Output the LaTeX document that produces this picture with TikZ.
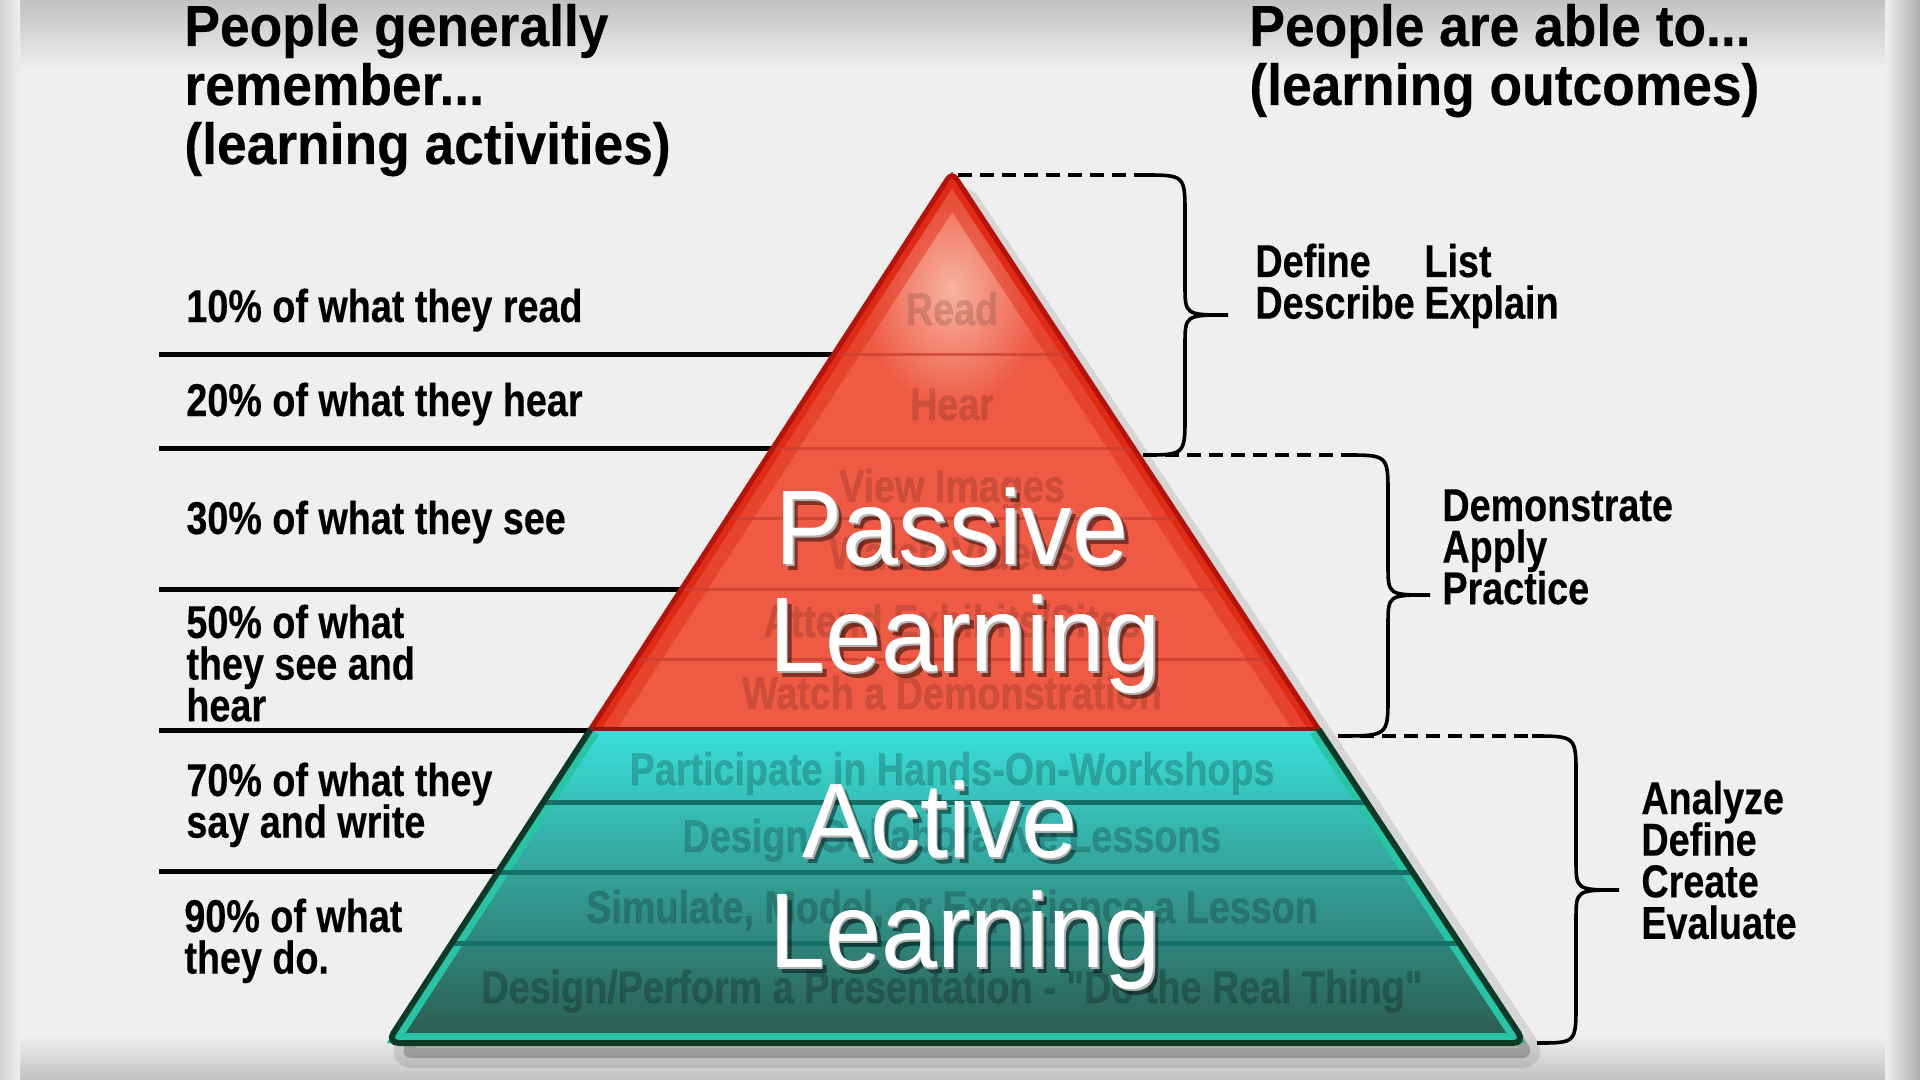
\documentclass[tikz,border=0pt]{standalone}
\usepackage{fontspec}
\setmainfont{Liberation Sans}
\newfontfamily\narrowsans{Liberation Sans}[FakeStretch=0.82, BoldFeatures={FakeBold=0.3}]
\newfontfamily\headsans{Liberation Sans}[FakeStretch=0.92, BoldFeatures={FakeBold=0.3}]
\newfontfamily\bigsans{Liberation Sans}[FakeStretch=0.95]
\usetikzlibrary{calc}

\definecolor{paper}{HTML}{EFEFEF}
\definecolor{papergray}{HTML}{C2C2C2}
\definecolor{redmid}{HTML}{EE5A44}
\definecolor{redglow}{HTML}{F7B3A2}
\definecolor{redrim}{HTML}{E02A14}
\definecolor{reddark}{HTML}{B5120A}
\definecolor{redline}{HTML}{C93E2E}
\definecolor{tealtop}{HTML}{3ADFDA}
\definecolor{tealmid}{HTML}{22A79E}
\definecolor{tealbot}{HTML}{2B5A4D}
\definecolor{tealrim}{HTML}{27C4A6}
\definecolor{tealdark}{HTML}{0B3A26}
\definecolor{tealline}{HTML}{157068}

% lines set at the font's baselineskip, baseline on the first line
\newcommand{\stack}[1]{\vtop{\lineskiplimit=-\maxdimen\let\\\cr\halign{##\hfil\cr#1\crcr}}}
% white title word with its bevel and shadow
\newcommand{\bigtext}[4]{%
  \node[bigword, text=black, text opacity=0.45] (#1-shadow) at (#2+5,#3+6) {#4};
  \node[bigword, text=gray!60] (#1-edge) at (#2+1.5,#3+2) {#4};
  \node[bigword, text=white] (#1) at (#2,#3) {#4};
}

\tikzset{
  heading/.style={anchor=base west, inner sep=0pt, font=\headsans\bfseries\fontsize{29}{29.5}\selectfont},
  remember/.style={anchor=base west, inner sep=0pt, font=\narrowsans\bfseries\fontsize{23}{20.8}\selectfont},
  outcome/.style={remember},
  layer/.style={anchor=base, inner sep=0pt, font=\narrowsans\bfseries\fontsize{23}{21}\selectfont, text=black, text opacity=0.14},
  bigword/.style={anchor=base, inner sep=0pt, font=\bigsans\fontsize{53}{53}\selectfont},
  leftrule/.style={line width=2.5pt, black},
  guide/.style={line width=2pt, dash pattern=on 7pt off 4pt},
  brace/.style={line width=1.8pt},
}

\begin{document}
\begin{tikzpicture}[x=0.5pt, y=-0.5pt]
  \useasboundingbox (0,0) rectangle (1920,1080);

  % paper
  \fill[paper] (0,0) rectangle (1920,1080);
  \shade[top color=papergray, bottom color=paper] (0,0) rectangle (1920,70);
  \shade[top color=paper, bottom color=papergray] (0,1035) rectangle (1920,1080);
  \shade[left color=paper, right color=papergray!90!black] (1885,0) rectangle (1920,1080);
  \shade[left color=papergray!60!paper, right color=paper] (0,0) rectangle (20,1080);

  % headings
  \node[heading] (headleft) at (184,46) {\stack{People generally\\remember...\\(learning activities)}};
  \node[heading] (headright) at (1249,46) {\stack{People are able to...\\(learning outcomes)}};

  % left rules, under the pyramid
  \foreach \yy/\xe in {355/843, 448/783, 589/691, 730/600, 871/509}
    \draw[leftrule] (159,\yy) -- (\xe,\yy);

  \coordinate (apex) at (952,172);
  \coordinate (bl) at (387,1043);
  \coordinate (br) at (1525,1043);
  \coordinate (ml) at ($(apex)!0.6395!(bl)$);
  \coordinate (mr) at ($(apex)!0.6395!(br)$);

  % shadow
  \fill[black, opacity=0.22, line width=10pt, draw opacity=0.1, draw=black, rounded corners=8pt]
    (962,190) -- (1537,1058) -- (397,1058) -- cycle;

  % active part
  \begin{scope}
    \clip (ml) -- (mr) -- (br) -- (bl) -- cycle;
    \shade[top color=tealtop, middle color=tealmid, bottom color=tealbot] (380,729) rectangle (1530,1043);
    \draw[tealrim, line width=10pt] (ml) -- (bl) -- (br) -- (mr);
    \foreach \yy in {802,872,943}
      \draw[tealline, line width=2.5pt] (380,\yy) -- (1530,\yy);
  \end{scope}
  \draw[tealdark, line width=3pt, rounded corners=6pt] (ml) -- (bl) -- (br) -- (mr);

  % passive part
  \begin{scope}
    \clip (apex) -- (mr) -- (ml) -- cycle;
    \fill[redmid] (380,170) rectangle (1530,730);
    \shade[inner color=redglow, outer color=redmid] (952,290) ellipse (90 and 120);
    \draw[redrim, line width=22pt, opacity=0.45] (ml) -- (apex) -- (mr);
    \draw[redrim, line width=9pt] (ml) -- (apex) -- (mr);
    \foreach \yy in {355,448,518,589,659}
      \draw[redline, line width=1.5pt, opacity=0.7] (380,\yy) -- (1530,\yy);
  \end{scope}
  \draw[reddark, line width=2.5pt, rounded corners=4pt] (ml) -- (apex) -- (mr);
  \draw[reddark!70!tealdark, line width=2pt] (ml) -- (mr);

  % layer names
  \node[layer] (read)    at (952,325)  {Read};
  \node[layer] (hear)    at (952,420)  {Hear};
  \node[layer] (view)    at (952,502)  {View Images};
  \node[layer] (videos)  at (952,569)  {Watch Videos};
  \node[layer] (attend)  at (952,637)  {Attend Exhibits/Sites};
  \node[layer] (demo)    at (952,709)  {Watch a Demonstration};
  \node[layer, text opacity=0.2] (workshop) at (952,785)  {Participate in Hands-On-Workshops};
  \node[layer, text opacity=0.2] (lessons)  at (952,852)  {Design Collaborative Lessons};
  \node[layer, text opacity=0.2] (simulate) at (952,923)  {Simulate, Model, or Experience a Lesson};
  \node[layer, text opacity=0.22] (perform) at (952,1003) {Design/Perform a Presentation - "Do the Real Thing"};

  % titles
  \bigtext{passive}{952}{564}{Passive}
  \bigtext{learnp}{965}{671}{Learning}
  \bigtext{active}{940}{857}{Active}
  \bigtext{learna}{965}{967}{Learning}

  % what they remember
  \node[remember] (rem10) at (186,322) {10\% of what they read};
  \node[remember] (rem20) at (186,416) {20\% of what they hear};
  \node[remember] (rem30) at (186,534) {30\% of what they see};
  \node[remember] (rem50) at (186,638) {\stack{50\% of what\\they see and\\hear}};
  \node[remember] (rem70) at (186,796) {\stack{70\% of what they\\say and write}};
  \node[remember] (rem90) at (184,932) {\stack{90\% of what\\they do.}};

  % guides and braces
  \draw[guide] (958,175) -- (1143,175);
  \draw[brace] (1143,175) .. controls (1185,175) .. (1185,215) -- (1185,285)
    .. controls (1185,315) .. (1228,315) .. controls (1185,315) .. (1185,345)
    -- (1185,415) .. controls (1185,455) .. (1143,455);
  \draw[guide] (1143,455) -- (1345,455);
  \draw[brace] (1345,455) .. controls (1388,455) .. (1388,495) -- (1388,565)
    .. controls (1388,595) .. (1430,595) .. controls (1388,595) .. (1388,625)
    -- (1388,696) .. controls (1388,736) .. (1338,736);
  \draw[guide] (1338,736) -- (1532,736);
  \draw[brace] (1532,736) .. controls (1576,736) .. (1576,776) -- (1576,860)
    .. controls (1576,890) .. (1619,890) .. controls (1576,890) .. (1576,920)
    -- (1576,1003) .. controls (1576,1043) .. (1537,1043);

  % what they are able to do
  \node[outcome] (define)  at (1255,277) {\stack{Define\\Describe}};
  \node[outcome] (list)    at (1424,277) {\stack{List\\Explain}};
  \node[outcome] (apply)   at (1442,521) {\stack{Demonstrate\\Apply\\Practice}};
  \node[outcome] (analyze) at (1641,814) {\stack{Analyze\\Define\\Create\\Evaluate}};
\end{tikzpicture}
\end{document}
